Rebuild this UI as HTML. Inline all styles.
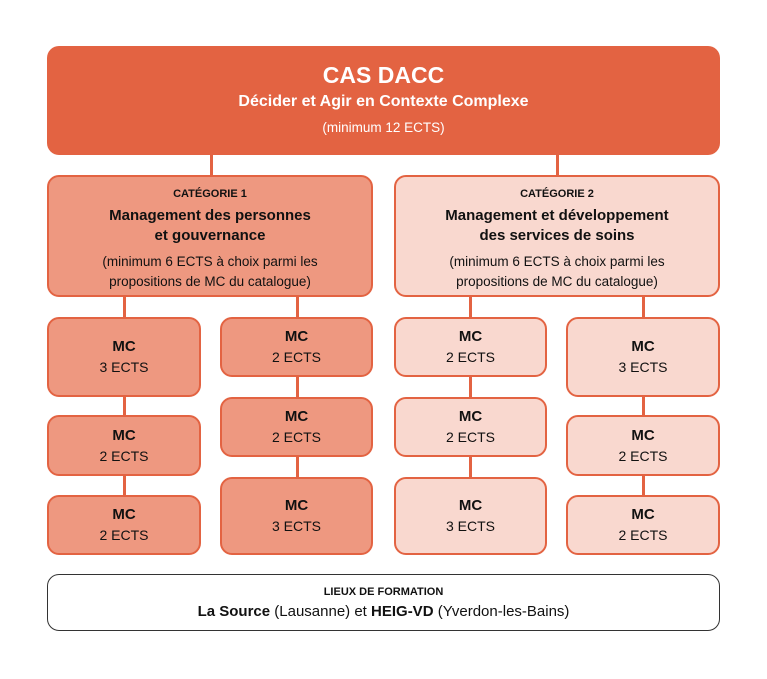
<!DOCTYPE html>
<html><head><meta charset="utf-8"><style>
body{margin:0;width:767px;height:679px;background:#fff;position:relative;font-family:"Liberation Sans",sans-serif;color:#111;overflow:hidden}
.b{position:absolute;box-sizing:border-box;border-radius:12px;text-align:center;display:flex;flex-direction:column;justify-content:center;align-items:center}
.l{position:absolute;background:#E36342;width:3px}
.c1{background:#EE9880;border:2px solid #E36342}
.c2{background:#F9D8CF;border:2px solid #E36342}
.mc b{font-size:15px;line-height:20px}
.mc span{font-size:14px;line-height:20px}
</style></head><body>
<div class="l" style="left:210px;top:150px;height:30px"></div>
<div class="l" style="left:556px;top:150px;height:30px"></div>
<div class="l" style="left:123px;top:290px;height:30px"></div>
<div class="l" style="left:296px;top:290px;height:30px"></div>
<div class="l" style="left:469px;top:290px;height:30px"></div>
<div class="l" style="left:642px;top:290px;height:30px"></div>
<div class="l" style="left:123px;top:390px;height:110px"></div>
<div class="l" style="left:296px;top:370px;height:110px"></div>
<div class="l" style="left:469px;top:370px;height:110px"></div>
<div class="l" style="left:642px;top:390px;height:110px"></div>

<div class="b" style="left:47px;top:46px;width:673px;height:109px;background:#E36342;color:#fff">
<b style="font-size:23px;line-height:28px">CAS DACC</b>
<b style="font-size:16px;line-height:26px">Décider et Agir en Contexte Complexe</b>
<span style="font-size:13.5px;line-height:26px">(minimum 12 ECTS)</span></div>

<div class="b c1" style="left:47px;top:175px;width:326px;height:122px;padding-top:4px">
<b style="font-size:11px;line-height:20px">CATÉGORIE 1</b>
<b style="font-size:15px;line-height:20px;margin-top:2px">Management des personnes<br>et gouvernance</b>
<span style="font-size:13.5px;line-height:20px;margin-top:6px">(minimum 6 ECTS à choix parmi les<br>propositions de MC du catalogue)</span></div>
<div class="b c2" style="left:394px;top:175px;width:326px;height:122px;padding-top:4px">
<b style="font-size:11px;line-height:20px">CATÉGORIE 2</b>
<b style="font-size:15px;line-height:20px;margin-top:2px">Management et développement<br>des services de soins</b>
<span style="font-size:13.5px;line-height:20px;margin-top:6px">(minimum 6 ECTS à choix parmi les<br>propositions de MC du catalogue)</span></div>

<div class="b c1 mc" style="left:47px;top:317px;width:154px;height:80px"><b>MC</b><span>3 ECTS</span></div>
<div class="b c1 mc" style="left:47px;top:415px;width:154px;height:61px"><b>MC</b><span>2 ECTS</span></div>
<div class="b c1 mc" style="left:47px;top:495px;width:154px;height:60px"><b>MC</b><span>2 ECTS</span></div>
<div class="b c1 mc" style="left:220px;top:317px;width:153px;height:60px"><b>MC</b><span>2 ECTS</span></div>
<div class="b c1 mc" style="left:220px;top:397px;width:153px;height:60px"><b>MC</b><span>2 ECTS</span></div>
<div class="b c1 mc" style="left:220px;top:477px;width:153px;height:78px"><b>MC</b><span>3 ECTS</span></div>
<div class="b c2 mc" style="left:394px;top:317px;width:153px;height:60px"><b>MC</b><span>2 ECTS</span></div>
<div class="b c2 mc" style="left:394px;top:397px;width:153px;height:60px"><b>MC</b><span>2 ECTS</span></div>
<div class="b c2 mc" style="left:394px;top:477px;width:153px;height:78px"><b>MC</b><span>3 ECTS</span></div>
<div class="b c2 mc" style="left:566px;top:317px;width:154px;height:80px"><b>MC</b><span>3 ECTS</span></div>
<div class="b c2 mc" style="left:566px;top:415px;width:154px;height:61px"><b>MC</b><span>2 ECTS</span></div>
<div class="b c2 mc" style="left:566px;top:495px;width:154px;height:60px"><b>MC</b><span>2 ECTS</span></div>

<div class="b" style="left:47px;top:574px;width:673px;height:57px;border:1.5px solid #333">
<b style="font-size:11px;line-height:18px">LIEUX DE FORMATION</b>
<span style="font-size:15px;line-height:22px"><b>La Source</b> (Lausanne) et <b>HEIG-VD</b> (Yverdon-les-Bains)</span></div>
</body></html>
